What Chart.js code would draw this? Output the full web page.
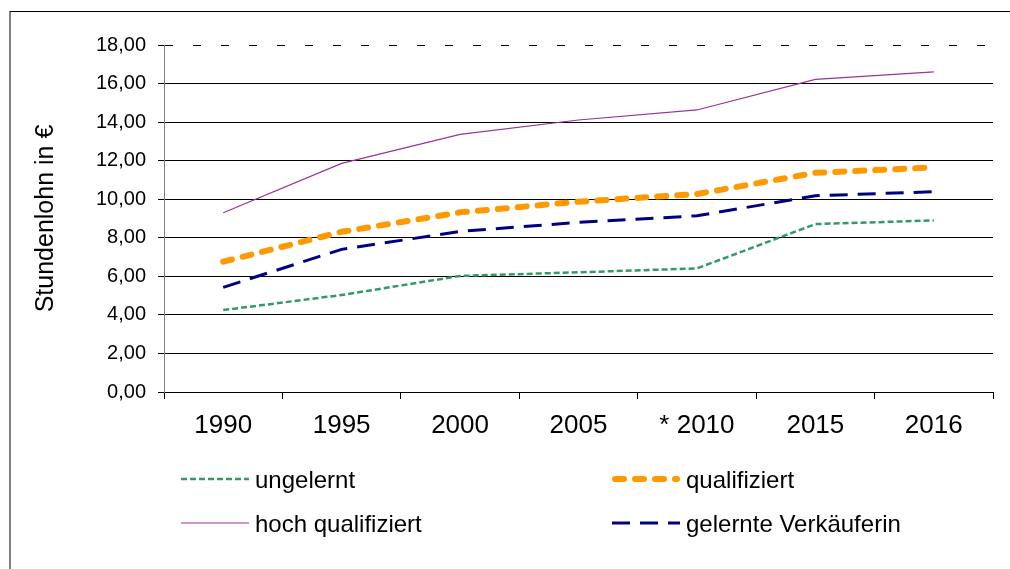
<!DOCTYPE html>
<html>
<head>
<meta charset="utf-8">
<script src="https://cdn.jsdelivr.net/npm/chart.js@4/dist/chart.umd.min.js"></script>
<style>
  body { margin: 0; background: #fff; font-family: "Liberation Sans", Arial, sans-serif; }
  #wrap { position: relative; width: 1010px; height: 569px; overflow: hidden; }
  #frame { position: absolute; left: 9px; top: 11px; width: 1100px; height: 700px;
           border-top: 1px solid #000; border-left: 2px solid #808080; }
  canvas { position: absolute; left: 0; top: 0; }
  .leg { position: absolute; font-size: 24px; color: #000; line-height: 28px; white-space: nowrap; }
  .leg svg { position: absolute; left: 0; top: 0; }
</style>
</head>
<body>
<div id="wrap">
  <div id="frame"></div>
  <canvas id="myChart" width="1010" height="569"></canvas>
  <div id="legend"></div>
</div>
<script>
// Stundenlohn je Qualifikation
const years = ['1990', '1995', '2000', '2005', '* 2010', '2015', '2016'];
const ungelernt = [4.25, 5.03, 6.02, 6.21, 6.41, 8.71, 8.90];
const qualifiziert = [6.76, 8.31, 9.32, 9.87, 10.27, 11.37, 11.65];
const hochQualifiziert = [9.30, 11.86, 13.36, 14.11, 14.63, 16.22, 16.61];
const verkaeuferin = [5.43, 7.40, 8.33, 8.80, 9.14, 10.18, 10.39];

const series = [
  { label: 'ungelernt', data: ungelernt, color: '#339966', width: 2.5, dash: [6, 3] },
  { label: 'qualifiziert', data: qualifiziert, color: '#FF9900', width: 6, dash: [9, 11] },
  { label: 'hoch qualifiziert', data: hochQualifiziert, color: '#993399', width: 1.2, dash: [] },
  { label: 'gelernte Verkäuferin', data: verkaeuferin, color: '#000080', width: 3, dash: [18, 10] }
];

const ctx = document.getElementById('myChart').getContext('2d');

new Chart(ctx, {
  type: 'line',
  data: {
    labels: years,
    datasets: series.map(s => ({
      label: s.label,
      data: s.data,
      borderColor: s.color,
      borderWidth: s.width,
      borderDash: s.dash,
      borderCapStyle: s.width > 4 ? 'round' : 'butt',
      pointRadius: 0,
      fill: false,
      tension: 0
    }))
  },
  options: {
    responsive: false,
    animation: false,
    layout: { padding: { left: 0, top: 45, right: 17, bottom: 0 } },
    plugins: { legend: { display: false }, tooltip: { enabled: false } },
    scales: {
      x: {
        offset: true,
        grid: { offset: true, drawOnChartArea: false, tickLength: 7, color: '#000' },
        border: { color: '#000', width: 1 },
        ticks: { color: '#000', font: { size: 26, family: 'Liberation Sans' }, padding: 11, maxRotation: 0 },
        afterFit: scale => { scale.height = 177; }
      },
      y: {
        min: 0,
        max: 18,
        grid: { color: '#000', lineWidth: 1, tickLength: 6 },
        border: {
          color: '#808080', width: 1,
          dash: c => (c.tick && c.tick.value === 18) ? [8, 20] : []
        },
        ticks: {
          stepSize: 2, color: '#000', padding: 12,
          font: { size: 20, family: 'Liberation Sans' },
          callback: v => v.toFixed(2).replace('.', ',')
        },
        title: {
          display: true, text: 'Stundenlohn in €', color: '#000',
          font: { size: 25, family: 'Liberation Sans' },
          padding: { top: 31, bottom: 0 }
        },
        afterFit: scale => { scale.width = 164; }
      }
    }
  }
});

// Legende unter dem Diagramm
const legendPos = [
  { x: 181, y: 466 }, { x: 612, y: 466 },
  { x: 181, y: 510 }, { x: 612, y: 510 }
];
const legend = document.getElementById('legend');
series.forEach((s, i) => {
  const p = legendPos[i];
  const div = document.createElement('div');
  div.className = 'leg';
  div.style.left = p.x + 'px';
  div.style.top = p.y + 'px';
  div.style.paddingLeft = '74px';
  const cap = s.width > 4 ? 'round' : 'butt';
  const x1 = s.width > 4 ? 3 : 0;
  const x2 = s.width > 4 ? 65 : 68;
  div.innerHTML = '<svg width="72" height="28"><line x1="' + x1 + '" y1="13" x2="' + x2 + '" y2="13" stroke="' + s.color +
    '" stroke-width="' + s.width + '" stroke-linecap="' + cap + '" stroke-dasharray="' + (s.dash.length ? s.dash.join(' ') : 'none') + '"/></svg>' + s.label;
  legend.appendChild(div);
});
</script>
</body>
</html>
